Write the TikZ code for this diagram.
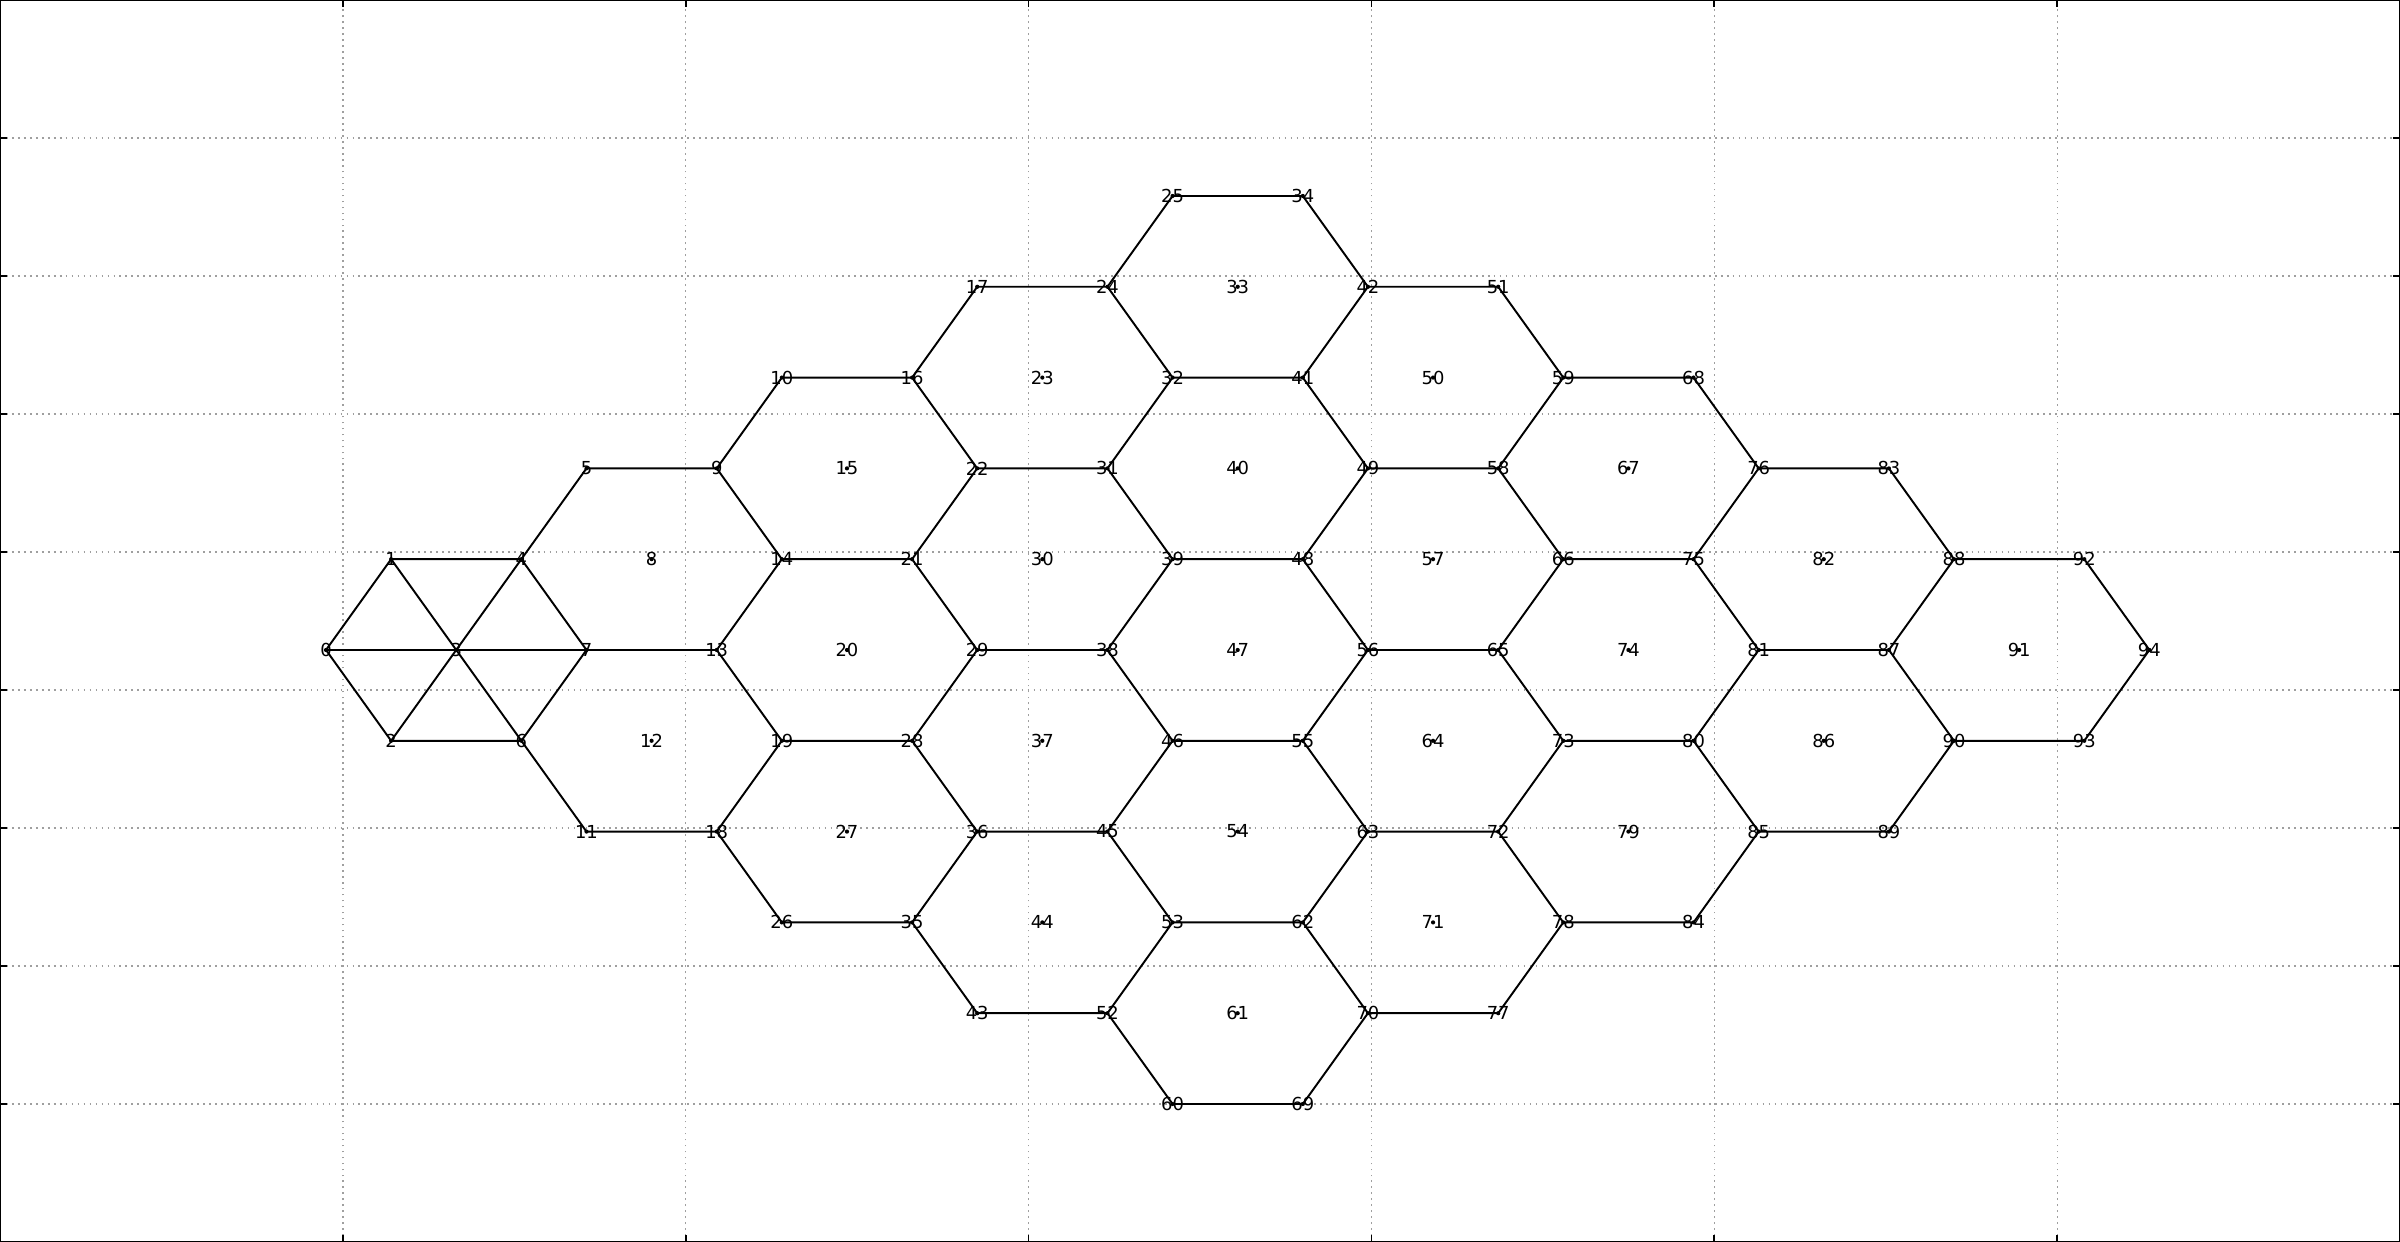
\documentclass[tikz,border=0pt]{standalone}
\usepackage{fontspec}
\setmainfont{DejaVu Sans}
\tikzset{
  gridline/.style={gray!75, line width=0.4pt, dash pattern=on 0.5pt off 1.2pt},
  edge/.style={black, line width=0.55pt},
  lbl/.style={inner sep=0pt, font=\fontsize{5.1}{6}\selectfont}
}
\begin{document}
\begin{tikzpicture}
  \def\W{24}
  \def\H{12.42}
  \useasboundingbox (0,0) rectangle (\W,\H);
  % grid and frame
  \foreach \k in {1,...,6}
    {
      \draw[gridline] (\k*3.4286,0) -- (\k*3.4286,\H);
      \draw[line width=0.5pt] (\k*3.4286,0) -- ++(0,0.07);
      \draw[line width=0.5pt] (\k*3.4286,\H) -- ++(0,-0.07);
    }
  \foreach \k in {1,...,8}
    {
      \draw[gridline] (0,\k*1.38) -- (\W,\k*1.38);
      \draw[line width=0.5pt] (0,\k*1.38) -- ++(0.07,0);
      \draw[line width=0.5pt] (\W,\k*1.38) -- ++(-0.07,0);
    }
  \draw[line width=0.8pt] (0,0) rectangle (\W,\H);
  % mesh
  \begin{scope}[shift={(3.26cm,5.92cm)}, x=0.6512cm, y=0.908cm]
    \foreach \k/\i/\j in {0/0/0, 1/1/1, 2/1/-1, 3/2/0, 4/3/1, 5/4/2, 6/3/-1, 7/4/0,
        8/5/1, 9/6/2, 10/7/3, 11/4/-2, 12/5/-1, 13/6/0, 14/7/1, 15/8/2, 16/9/3,
        17/10/4, 18/6/-2, 19/7/-1, 20/8/0, 21/9/1, 22/10/2, 23/11/3, 24/12/4,
        25/13/5, 26/7/-3, 27/8/-2, 28/9/-1, 29/10/0, 30/11/1, 31/12/2, 32/13/3,
        33/14/4, 34/15/5, 35/9/-3, 36/10/-2, 37/11/-1, 38/12/0, 39/13/1, 40/14/2,
        41/15/3, 42/16/4, 43/10/-4, 44/11/-3, 45/12/-2, 46/13/-1, 47/14/0,
        48/15/1, 49/16/2, 50/17/3, 51/18/4, 52/12/-4, 53/13/-3, 54/14/-2,
        55/15/-1, 56/16/0, 57/17/1, 58/18/2, 59/19/3, 60/13/-5, 61/14/-4,
        62/15/-3, 63/16/-2, 64/17/-1, 65/18/0, 66/19/1, 67/20/2, 68/21/3,
        69/15/-5, 70/16/-4, 71/17/-3, 72/18/-2, 73/19/-1, 74/20/0, 75/21/1,
        76/22/2, 77/18/-4, 78/19/-3, 79/20/-2, 80/21/-1, 81/22/0, 82/23/1,
        83/24/2, 84/21/-3, 85/22/-2, 86/23/-1, 87/24/0, 88/25/1, 89/24/-2,
        90/25/-1, 91/26/0, 92/27/1, 93/27/-1, 94/28/0}
      {
        \coordinate (n\k) at (\i,\j);
      }
    % wheel round node 3, then the hexagons, all in one stroke
    \draw[edge]
      \foreach \a/\b in {0/1, 1/4, 4/7, 7/6, 6/2, 2/0, 3/0, 3/1, 3/4, 3/7, 3/6, 3/2}
        { (n\a) -- (n\b) }
      \foreach \a/\b/\c/\d/\e/\f in {4/5/9/14/13/7, 6/7/13/19/18/11,
          9/10/16/22/21/14, 13/14/21/29/28/19, 18/19/28/36/35/26,
          16/17/24/32/31/22, 21/22/31/39/38/29, 28/29/38/46/45/36,
          35/36/45/53/52/43, 24/25/34/42/41/32, 31/32/41/49/48/39,
          38/39/48/56/55/46, 45/46/55/63/62/53, 52/53/62/70/69/60,
          41/42/51/59/58/49, 48/49/58/66/65/56, 55/56/65/73/72/63,
          62/63/72/78/77/70, 58/59/68/76/75/66, 65/66/75/81/80/73,
          72/73/80/85/84/78, 75/76/83/88/87/81, 80/81/87/90/89/85,
          87/88/92/94/93/90}
        { (n\a) -- (n\b) -- (n\c) -- (n\d) -- (n\e) -- (n\f) -- cycle };
    \foreach \k in {0,...,94}
      {
        \fill (n\k) circle (0.6pt);
        \node[lbl] (l\k) at (n\k) {\k};
      }
  \end{scope}
\end{tikzpicture}
\end{document}
